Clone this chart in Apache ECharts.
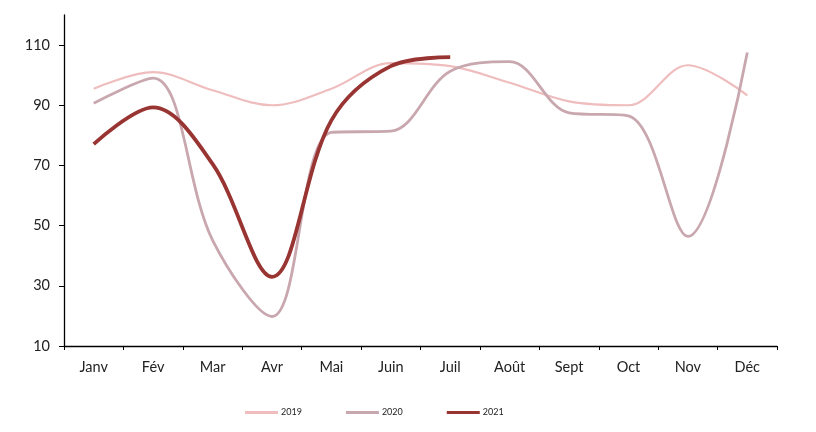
<!DOCTYPE html>
<html>
<head>
<meta charset="utf-8">
<script src="https://cdn.jsdelivr.net/npm/echarts@6/dist/echarts.min.js"></script>
<style>html,body{margin:0;padding:0;background:#fff}#c{width:816px;height:432px}</style>
</head>
<body>
<div id="c"></div>
<script>
var months = ['Janv','Fév','Mar','Avr','Mai','Juin','Juil','Août','Sept','Oct','Nov','Déc'];
var s2019 = [95.5, 101, 95, 90, 95.5, 104, 103, 97.5, 91.3, 90, 103.3, 93.3];
var s2020 = [90.7, 99, 45.2, 19.8, 81, 81.4, 101.3, 104.5, 87.5, 86.5, 46.4, 107.5];
var s2021 = [77.1, 89.3, 70.5, 33, 85, 103, 106];
var yTicks = [10, 30, 50, 70, 90, 110];

var chart = echarts.init(document.getElementById('c'));
var font = 'Lato, "Open Sans", sans-serif';
chart.setOption({
  animation: false,
  grid: {left: 64, right: 39, top: 15, bottom: 86, containLabel: false},
  legend: {
    left: 240, top: 403, itemWidth: 33, itemHeight: 3, itemGap: 44, icon: 'rect',
    textStyle: {fontSize: 9, color: '#222', fontFamily: font, padding: [0,0,0,-2]},
    data: ['2019','2020','2021']
  },
  xAxis: {
    type: 'category', data: months, boundaryGap: true,
    axisLine: {lineStyle: {color: '#000', width: 1.3}},
    axisTick: {show: true, length: 4, lineStyle: {color: '#000'}},
    axisLabel: {color: '#222', fontSize: 14.5, fontFamily: font, margin: 14}
  },
  yAxis: {
    type: 'value', min: 10, max: 120, interval: 20,
    splitLine: {show: false},
    axisLine: {show: true, lineStyle: {color: '#000', width: 1.3}},
    axisTick: {show: true, length: 5, customValues: yTicks, lineStyle: {color: '#000'}},
    axisLabel: {color: '#222', fontSize: 14.5, fontFamily: font, margin: 14, customValues: yTicks}
  },
  series: [
    {name: '2019', type: 'line', data: s2019, smooth: 0.35, showSymbol: false,
     itemStyle: {color: '#EFBDBD'}, lineStyle: {color: '#EFBDBD', width: 2.2}},
    {name: '2020', type: 'line', data: s2020, smooth: 0.35, showSymbol: false,
     itemStyle: {color: '#C9A7AF'}, lineStyle: {color: '#C9A7AF', width: 2.8}},
    {name: '2021', type: 'line', data: s2021, smooth: 0.35, showSymbol: false,
     itemStyle: {color: '#983533'}, lineStyle: {color: '#983533', width: 3.8}}
  ]
});
</script>
</body>
</html>
